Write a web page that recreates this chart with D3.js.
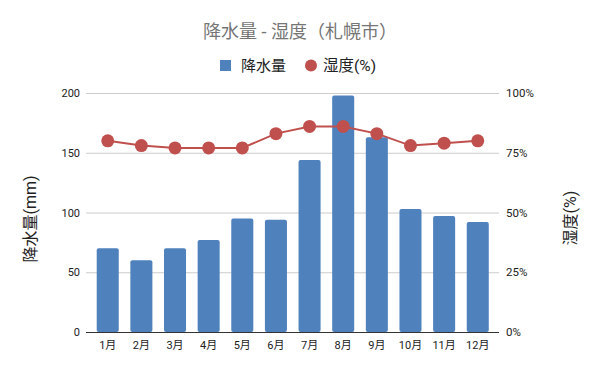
<!DOCTYPE html>
<html>
<head>
<meta charset="utf-8">
<script src="https://cdn.jsdelivr.net/npm/d3@7"></script>
<style>
  body { margin: 0; background: #fff; }
  text { font-family: Roboto, "Noto Sans CJK JP", sans-serif; }
</style>
</head>
<body>
<svg width="600" height="371"></svg>
<script>
var months = ["1月", "2月", "3月", "4月", "5月", "6月", "7月", "8月", "9月", "10月", "11月", "12月"];
var rainfall = [70, 60, 70, 77, 95, 94, 144, 198, 163, 103, 97, 92];
var humidity = [80, 78, 77, 77, 77, 83, 86, 86, 83, 78, 79, 80];
var leftTicks = [0, 50, 100, 150, 200];
var rightTicks = [0, 25, 50, 75, 100];

var barColor = "#4f81bd";
var lineColor = "#c0504d";

var svg = d3.select("svg");

var xScale = d3.scaleBand().domain(months).range([91, 494.5]).paddingInner(0.345).paddingOuter(0.17);
var yLeft = d3.scaleLinear().domain([0, 200]).range([332, 93]);
var yRight = d3.scaleLinear().domain([0, 100]).range([332, 93]);

// Gridlines
svg.append("g")
    .selectAll("line")
    .data(leftTicks.slice(1))
    .join("line")
    .attr("x1", 86)
    .attr("x2", 499)
    .attr("y1", d => yLeft(d) + 0.5)
    .attr("y2", d => yLeft(d) + 0.5)
    .attr("stroke", "#cccccc")
    .attr("stroke-width", 1);

// Left tick labels
svg.append("g")
    .selectAll("text")
    .data(leftTicks)
    .join("text")
    .attr("x", 80)
    .attr("y", d => yLeft(d) + 4)
    .attr("text-anchor", "end")
    .attr("font-size", 11)
    .attr("fill", "#222")
    .text(d => d);

// Right tick labels
svg.append("g")
    .selectAll("text")
    .data(rightTicks)
    .join("text")
    .attr("x", 506)
    .attr("y", d => yRight(d) + 4)
    .attr("text-anchor", "start")
    .attr("font-size", 11.5)
    .attr("fill", "#222")
    .text(d => d + "%");

// Bars
svg.append("g")
    .selectAll("rect")
    .data(rainfall)
    .join("rect")
    .attr("x", (d, i) => xScale(months[i]))
    .attr("width", xScale.bandwidth())
    .attr("y", d => yLeft(d))
    .attr("height", d => yLeft(0) - yLeft(d))
    .attr("rx", 2)
    .attr("fill", barColor);

// Baseline
svg.append("line")
    .attr("x1", 86)
    .attr("x2", 499)
    .attr("y1", yLeft(0) + 0.5)
    .attr("y2", yLeft(0) + 0.5)
    .attr("stroke", "#333")
    .attr("stroke-width", 1);

// X labels
svg.append("g")
    .selectAll("text")
    .data(months)
    .join("text")
    .attr("x", d => xScale(d) + xScale.bandwidth() / 2)
    .attr("y", 349)
    .attr("text-anchor", "middle")
    .attr("font-size", 11)
    .attr("fill", "#222")
    .text(d => d);

// Humidity line
var line = d3.line()
    .x((d, i) => xScale(months[i]) + xScale.bandwidth() / 2)
    .y(d => yRight(d));

svg.append("path")
    .attr("d", line(humidity))
    .attr("fill", "none")
    .attr("stroke", lineColor)
    .attr("stroke-width", 2);

svg.append("g")
    .selectAll("circle")
    .data(humidity)
    .join("circle")
    .attr("cx", (d, i) => xScale(months[i]) + xScale.bandwidth() / 2)
    .attr("cy", d => yRight(d))
    .attr("r", 6.5)
    .attr("fill", lineColor);

// Title
svg.append("text")
    .attr("x", 300)
    .attr("y", 38)
    .attr("text-anchor", "middle")
    .attr("font-size", 18)
    .attr("fill", "#757575")
    .text("降水量 - 湿度（札幌市）");

// Legend
svg.append("rect")
    .attr("x", 220)
    .attr("y", 60)
    .attr("width", 11)
    .attr("height", 11)
    .attr("fill", barColor);

svg.append("text")
    .attr("x", 241)
    .attr("y", 71)
    .attr("font-size", 15)
    .attr("fill", "#222")
    .text("降水量");

svg.append("circle")
    .attr("cx", 311)
    .attr("cy", 65.5)
    .attr("r", 6)
    .attr("fill", lineColor);

svg.append("text")
    .attr("x", 323)
    .attr("y", 71)
    .attr("font-size", 15.5)
    .attr("fill", "#222")
    .text("湿度(%)");

// Axis titles
svg.append("text")
    .attr("transform", "translate(36,219) rotate(-90)")
    .attr("text-anchor", "middle")
    .attr("font-size", 16)
    .attr("fill", "#222")
    .text("降水量(mm)");

svg.append("text")
    .attr("transform", "translate(576,218) rotate(-90)")
    .attr("text-anchor", "middle")
    .attr("font-size", 16)
    .attr("fill", "#222")
    .text("湿度(%)");
</script>
</body>
</html>
